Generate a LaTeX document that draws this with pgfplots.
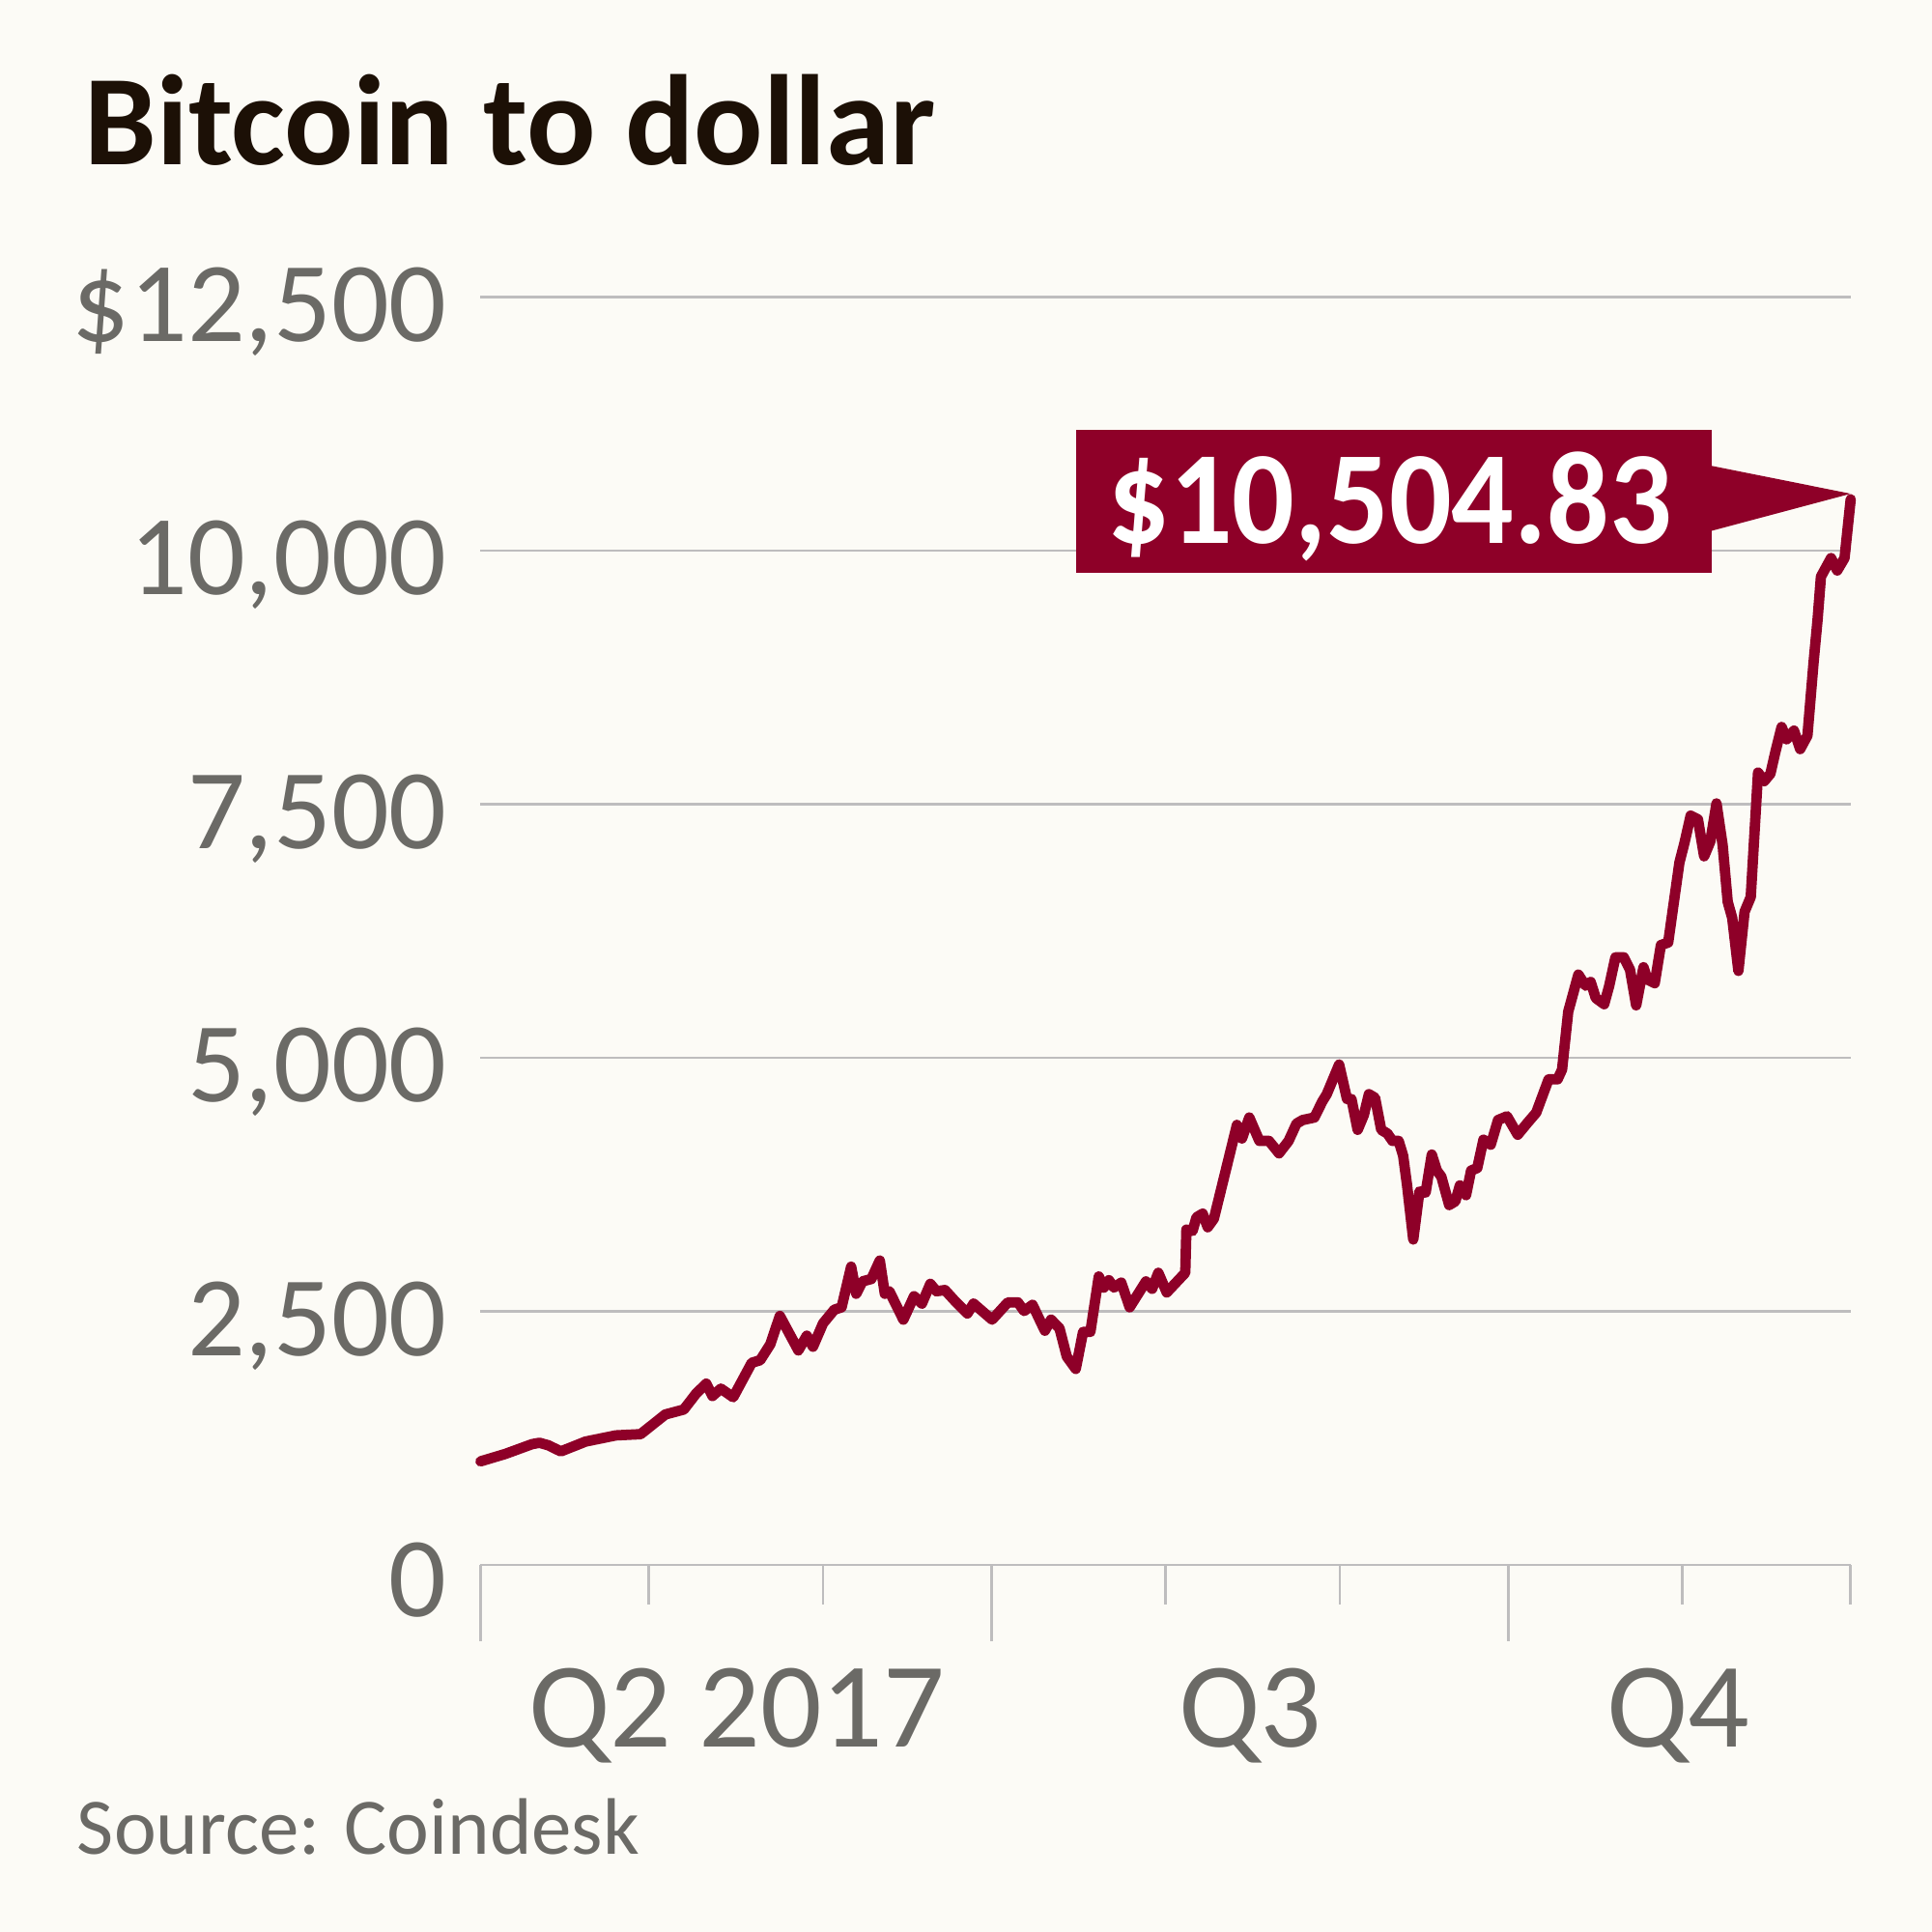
\documentclass[border=0pt]{standalone}
\usepackage{fontspec}
\usepackage{pgfplots}
\pgfplotsset{compat=1.18}
\setmainfont{Carlito}
\newfontfamily\labelfont[FakeStretch=0.93]{Carlito}
\definecolor{bgcol}{RGB}{252,251,246}
\definecolor{btcred}{RGB}{142,0,40}
\definecolor{gridgray}{RGB}{190,189,190}
\definecolor{txtgray}{RGB}{107,106,102}
\definecolor{titlecol}{RGB}{28,16,6}
\pgfplotstableread{
d v
0 1020
4.4 1093
9.2 1190
10.5 1203
12.1 1178
14.3 1118
18.7 1215
24.1 1276
28.5 1288
32.9 1482
36.2 1531
38.4 1689
40.2 1786
41.3 1664
42.8 1737
45.0 1652
48.3 1992
49.8 2017
51.6 2174
53.3 2454
56.6 2114
58.1 2259
59.2 2150
61.0 2381
63.0 2515
64.3 2539
66.0 2940
66.9 2672
68.0 2794
69.6 2818
71.1 3000
72.0 2672
72.8 2697
75.3 2417
77.2 2648
78.6 2575
80.1 2770
81.2 2697
82.7 2709
84.5 2600
86.7 2478
87.8 2575
91.1 2417
93.9 2587
95.7 2587
96.8 2502
98.3 2563
100.5 2308
101.6 2417
103.1 2332
104.4 2053
106.0 1931
107.3 2296
108.6 2296
110.1 2843
111.0 2733
111.9 2806
112.8 2733
114.1 2782
115.6 2539
118.5 2794
119.6 2721
120.7 2879
122.2 2685
125.5 2879
125.7 3304
126.8 3292
127.5 3426
128.6 3462
129.5 3328
130.6 3413
134.7 4337
135.6 4203
136.9 4410
138.7 4179
140.4 4179
142.2 4057
143.9 4179
145.3 4349
146.4 4385
148.5 4410
149.9 4568
150.7 4640
152.9 4932
154.3 4592
155.1 4592
156.2 4288
157.3 4434
158.2 4640
159.3 4604
160.4 4288
161.5 4252
162.4 4179
163.5 4179
164.3 4033
165.0 3741
166.1 3207
167.2 3681
168.3 3669
169.4 4045
170.3 3887
171.1 3827
172.5 3547
173.6 3584
174.4 3741
175.5 3644
176.4 3887
177.5 3912
178.6 4191
179.9 4142
181.2 4385
182.8 4422
184.7 4240
186.5 4361
188.0 4458
190.2 4786
191.8 4786
192.6 4883
193.7 5454
195.5 5819
196.8 5709
197.7 5746
198.6 5588
200.1 5527
201.0 5709
202.1 5989
203.6 5989
204.7 5867
205.8 5515
207.1 5892
207.8 5770
209.1 5734
210.2 6110
211.5 6135
213.5 6924
214.4 7118
215.5 7386
216.8 7349
217.9 6985
219.0 7131
220.1 7507
221.2 7094
222.1 6536
222.9 6378
224.0 5855
225.1 6438
226.2 6584
227.5 7811
228.6 7726
229.7 7799
230.6 8017
231.7 8260
232.6 8139
233.9 8224
235.0 8042
236.3 8175
237.4 8904
238.1 9317
238.7 9742
240.5 9925
241.6 9803
242.9 9925
244.0 10505
}\btcdata
\begin{document}
\begin{tikzpicture}
\useasboundingbox (0,0) rectangle (15.68,15.68);
\fill[bgcol] (0,0) rectangle (15.68,15.68);
\node[anchor=base west, inner sep=0, text=titlecol, font=\fontsize{29.7}{32}\selectfont\bfseries] at (0.68,14.34) {Bitcoin to dollar};
\node[anchor=base west, inner sep=0, text=txtgray, font=\fontsize{18.5}{21}\selectfont] at (0.62,0.63) {Source: Coindesk};
\begin{axis}[
  at={(3.90cm,2.98cm)}, anchor=south west,
  scale only axis, width=11.12cm, height=10.29cm,
  xmin=0, xmax=244, ymin=0, ymax=12500,
  clip=false,
  scaled y ticks=false,
  axis x line*=bottom,
  axis y line*=left,
  y axis line style={draw=none},
  x axis line style={draw=gridgray, line width=0.6pt},
  xtick={0,30,61,91,122,153,183,214,244},
  xticklabels={},
  xtick pos=bottom,
  tick align=outside,
  major tick length=0.32cm,
  xtick style={draw=gridgray, line width=0.6pt},
  extra x ticks={0,91,183},
  extra x tick labels={},
  extra x tick style={major tick length=0.62cm, xtick style={draw=gridgray, line width=0.6pt}},
  ytick={0,2500,5000,7500,10000,12500},
  yticklabels={0,{2,500},{5,000},{7,500},{10,000},{\$12,500}},
  ytick style={draw=none},
  ytick pos=left,
  yticklabel style={anchor=east, text=txtgray, font=\fontsize{26.3}{28}\selectfont, yshift=-0.12cm, xshift=0.17cm},
  ymajorgrids,
  grid style={draw=gridgray, line width=0.6pt},
]
\addplot[color=btcred, line width=2.4pt, line join=round, line cap=round, no markers] table[x=d, y=v] {\btcdata};
\fill[btcred] (axis cs:106,9779) rectangle (axis cs:219.2,11188);
\fill[btcred] (axis cs:219.1,10836) -- (axis cs:244,10560) -- (axis cs:219.1,10192) -- cycle;
\node[anchor=base, inner sep=0, text=white, font=\labelfont\bfseries\fontsize{30.6}{32}\selectfont] at (axis cs:161.9,10070) {\$10,504.83};
\node[anchor=base, inner sep=0, text=txtgray, font=\fontsize{28}{30}\selectfont] at (axis cs:45.6,0) [yshift=-1.48cm] {Q2 2017};
\node[anchor=base, inner sep=0, text=txtgray, font=\fontsize{28}{30}\selectfont] at (axis cs:137.1,0) [yshift=-1.48cm] {Q3};
\node[anchor=base, inner sep=0, text=txtgray, font=\fontsize{28}{30}\selectfont] at (axis cs:213.3,0) [yshift=-1.48cm] {Q4};
\end{axis}
\end{tikzpicture}
\end{document}
